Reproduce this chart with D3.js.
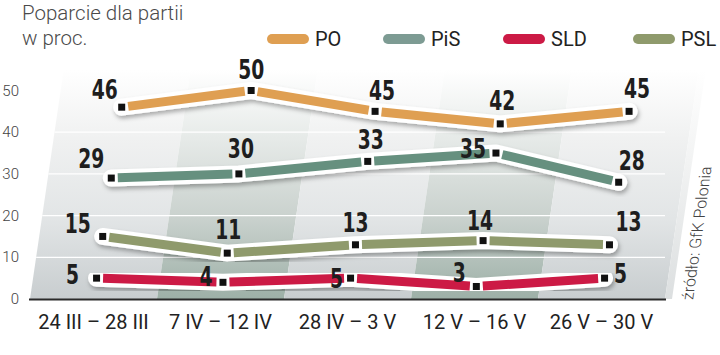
<!DOCTYPE html>
<html><head><meta charset="utf-8">
<script src="https://cdn.jsdelivr.net/npm/d3@7"></script>
<style>
html,body{margin:0;padding:0;background:#fff;}
svg{display:block;}
</style></head>
<body>
<script>
const categories = ["24 III – 28 III", "7 IV – 12 IV", "28 IV – 3 V", "12 V – 16 V", "26 V – 30 V"];
const seriesNames = ["PO", "PiS", "SLD", "PSL"];
const valuesPO  = [46, 50, 45, 42, 45];
const valuesPiS = [29, 30, 33, 35, 28];
const valuesSLD = [5, 4, 5, 3, 5];
const valuesPSL = [15, 11, 13, 14, 13];
const yTicks = [0, 10, 20, 30, 40, 50];
const titleLines = ["Poparcie dla partii", "w proc."];
const sourceText = "źródło: GfK Polonia";

const colors = {PO: "#df9f52", PiS: "#66907f", SLD: "#cc1a45", PSL: "#8f9a6c"};
const legendColors = {PO: "#df9f52", PiS: "#7d9b93", SLD: "#cc1a45", PSL: "#8f9a6c"};
// label offsets relative to marker (dx, dy baseline)
const labelOff = {
  PO:  [[-17,-8],[0,-12],[7,-11],[2,-14],[8,-13]],
  PiS: [[-20,-10],[2,-16],[3,-12],[-23,5],[13,-12]],
  PSL: [[-25,-3],[1,-14],[0,-13],[-3,-11],[19,-14]],
  SLD: [[-24,6],[-17,4],[-14,10],[-17,-4],[16,5]]
};

const W = 720, H = 355;
const svg = d3.select("body").append("svg").attr("width", W).attr("height", H);
const defs = svg.append("defs");

const y = d3.scaleLinear().domain([0, 50]).range([299, 90.5]);
const band = d3.scaleBand().domain(categories).range([30, 665]).padding(0);
const skew = 0.147;
const sx = (xb, yy) => xb + skew * (y(0) - yy);
const px = (cat, v) => sx(band(cat) + band.bandwidth() / 2, y(v));

function grad(id, stops) {
  const g = defs.append("linearGradient").attr("id", id)
    .attr("gradientUnits", "userSpaceOnUse").attr("x1", 0).attr("x2", 0).attr("y1", 70).attr("y2", 299);
  stops.forEach(s => g.append("stop").attr("offset", s[0]).attr("stop-color", s[1]));
}
grad("gLight", [[0, "#ffffff"], [0.3, "#f0f1f1"], [0.65, "#e2e5e6"], [1, "#c8cdcf"]]);
grad("gDark", [[0, "#ffffff"], [0.3, "#e6eae8"], [0.65, "#c9d1cd"], [1, "#9db0a7"]]);
grad("gSide", [[0, "#ffffff"], [0.4, "#f2f3f3"], [1, "#dcdfe0"]]);

const f = defs.append("filter").attr("id", "shadow").attr("x", "-10%").attr("y", "-50%").attr("width", "120%").attr("height", "200%");
f.append("feDropShadow").attr("dx", 1.5).attr("dy", 3).attr("stdDeviation", 2.2).attr("flood-color", "#000").attr("flood-opacity", 0.3);

const yTop = 70;
categories.forEach((c, i) => {
  const x0 = band(c), x1 = band(c) + band.bandwidth();
  svg.append("path")
    .attr("d", `M${sx(x0, y(0))},${y(0)} L${sx(x1, y(0))},${y(0)} L${sx(x1, yTop)},${yTop} L${sx(x0, yTop)},${yTop} Z`)
    .attr("fill", i % 2 === 1 ? "url(#gDark)" : "url(#gLight)");
});
{
  const x0 = 665, x1 = 672;
  svg.append("path")
    .attr("d", `M${x0},${y(0)} L${x1},${y(0)} L${sx(x1, yTop)},${yTop} L${sx(x0, yTop)},${yTop} Z`)
    .attr("fill", "url(#gSide)");
}

yTicks.filter(t => t > 0 && t < 50).forEach(t => {
  svg.append("line")
    .attr("x1", sx(30, y(t))).attr("x2", 665)
    .attr("y1", y(t)).attr("y2", y(t))
    .attr("stroke", "#ffffff").attr("stroke-width", 1.3);
});
svg.append("line").attr("x1", 29).attr("x2", 666).attr("y1", y(0) + 0.5).attr("y2", y(0) + 0.5)
  .attr("stroke", "#2a2a2a").attr("stroke-width", 2);

svg.append("g").selectAll("text").data(yTicks).join("text")
  .attr("x", 19).attr("y", d => y(d) + 5)
  .attr("text-anchor", "end")
  .attr("font-family", "Roboto, 'Liberation Sans', sans-serif").attr("font-weight", 300)
  .attr("font-size", 15).attr("fill", "#444")
  .text(d => d);

svg.append("g").selectAll("text").data(categories).join("text")
  .attr("x", d => band(d) + band.bandwidth() / 2)
  .attr("y", 329)
  .attr("text-anchor", "middle")
  .attr("font-family", "Roboto, 'Liberation Sans', sans-serif").attr("font-weight", 400)
  .attr("font-size", 20).attr("fill", "#222")
  .text(d => d);

svg.append("g").selectAll("text").data(titleLines).join("text")
  .attr("x", 22).attr("y", (d, i) => 20 + i * 25)
  .attr("font-family", "Roboto, 'Liberation Sans', sans-serif").attr("font-weight", 300)
  .attr("font-size", 20.5).attr("fill", "#4a4a4a")
  .text(d => d);

const legendX = {PO: 267, PiS: 383, SLD: 503, PSL: 633};
const lg = svg.append("g");
seriesNames.forEach(n => {
  const x0 = legendX[n];
  lg.append("line").attr("x1", x0 + 5).attr("x2", x0 + 37).attr("y1", 39).attr("y2", 39)
    .attr("stroke", legendColors[n]).attr("stroke-width", 10).attr("stroke-linecap", "round");
  lg.append("text").attr("x", x0 + 48).attr("y", 46)
    .attr("font-family", "Roboto, 'Liberation Sans', sans-serif").attr("font-weight", 400)
    .attr("font-size", 20).attr("fill", "#222").text(n);
});

svg.append("text")
  .attr("transform", `translate(693,300) skewX(-8) rotate(-90)`)
  .attr("font-family", "Roboto, 'Liberation Sans', sans-serif").attr("font-weight", 300)
  .attr("font-size", 16).attr("fill", "#444")
  .text(sourceText);

const seriesData = {PO: valuesPO, PiS: valuesPiS, SLD: valuesSLD, PSL: valuesPSL};
const drawOrder = ["PO", "PiS", "PSL", "SLD"];
const lineGen = d3.line().x(d => d[0]).y(d => d[1]);
const labelsG = [];
drawOrder.forEach(n => {
  const pts = seriesData[n].map((v, i) => [px(categories[i], v), y(v)]);
  const g = svg.append("g");
  g.append("path").attr("d", lineGen(pts)).attr("fill", "none")
    .attr("stroke", "#fff").attr("stroke-width", 17)
    .attr("stroke-linejoin", "round").attr("stroke-linecap", "round")
    .attr("filter", "url(#shadow)");
  const gap = 6.5;
  for (let i = 0; i < pts.length - 1; i++) {
    const [x1, y1] = pts[i], [x2, y2] = pts[i + 1];
    const L = Math.hypot(x2 - x1, y2 - y1), ux = (x2 - x1) / L, uy = (y2 - y1) / L;
    g.append("line")
      .attr("x1", x1 + ux * gap).attr("y1", y1 + uy * gap)
      .attr("x2", x2 - ux * gap).attr("y2", y2 - uy * gap)
      .attr("stroke", colors[n]).attr("stroke-width", 9);
  }
  g.selectAll("rect").data(pts).join("rect")
    .attr("x", d => d[0] - 3.5).attr("y", d => d[1] - 3.5)
    .attr("width", 7).attr("height", 7).attr("fill", "#111");
  labelsG.push({n, pts});
});
labelsG.forEach(({n, pts}) => {
  svg.append("g").selectAll("text").data(seriesData[n]).join("text")
    .attr("transform", (d, i) => `translate(${pts[i][0] + labelOff[n][i][0]},${pts[i][1] + labelOff[n][i][1]}) scale(0.8,1)`)
    .attr("text-anchor", "middle")
    .attr("font-family", "'DejaVu Sans Condensed', 'DejaVu Sans', sans-serif")
    .attr("font-weight", 700).attr("font-size", 26).attr("fill", "#1e1e1e")
    .text(d => d);
});
</script>
</body></html>
